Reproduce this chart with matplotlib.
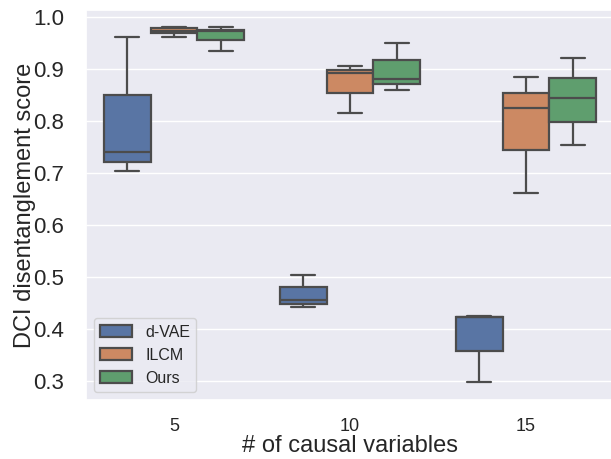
import matplotlib
matplotlib.use("Agg")
import matplotlib.pyplot as plt
import seaborn as sns
import pandas as pd

# Five values per box (min, Q1, median, Q3, max)
groups = ["5", "10", "15"]
methods = ["d-VAE", "ILCM", "Ours"]

dvae_5 = [0.703, 0.721, 0.740, 0.850, 0.961]
ilcm_5 = [0.961, 0.969, 0.974, 0.979, 0.980]
ours_5 = [0.935, 0.955, 0.974, 0.976, 0.981]

dvae_10 = [0.442, 0.449, 0.456, 0.480, 0.503]
ilcm_10 = [0.815, 0.853, 0.893, 0.899, 0.906]
ours_10 = [0.860, 0.871, 0.881, 0.917, 0.951]

dvae_15 = [0.298, 0.358, 0.423, 0.423, 0.426]
ilcm_15 = [0.662, 0.744, 0.825, 0.854, 0.885]
ours_15 = [0.754, 0.799, 0.844, 0.883, 0.922]

values = {
    ("5", "d-VAE"): dvae_5, ("5", "ILCM"): ilcm_5, ("5", "Ours"): ours_5,
    ("10", "d-VAE"): dvae_10, ("10", "ILCM"): ilcm_10, ("10", "Ours"): ours_10,
    ("15", "d-VAE"): dvae_15, ("15", "ILCM"): ilcm_15, ("15", "Ours"): ours_15,
}

rows = []
for g in groups:
    for m in methods:
        for v in values[(g, m)]:
            rows.append({"n": g, "method": m, "score": v})
df = pd.DataFrame(rows)

sns.set_theme(style="darkgrid")
plt.rcParams["font.family"] = ["Liberation Sans", "DejaVu Sans"]

fig = plt.figure(figsize=(6.11, 4.59), dpi=100)
ax = fig.add_axes([86 / 611, 59 / 459, 528 / 611, 390 / 459])

sns.boxplot(data=df, x="n", y="score", hue="method", order=groups,
            hue_order=methods, ax=ax, palette="deep", linewidth=1.6,
            linecolor="#4c4c4c")

ax.set_xlabel("# of causal variables", fontsize=17, labelpad=0)
ax.set_ylabel("DCI disentanglement score", fontsize=17, labelpad=-2)
ax.tick_params(axis="y", labelsize=16, pad=10)
ax.tick_params(axis="x", labelsize=13, pad=7)
ax.set_ylim(0.2635, 1.0135)
ax.legend(loc="lower left", fontsize=11.5)

fig.savefig("out.png", dpi=100)
